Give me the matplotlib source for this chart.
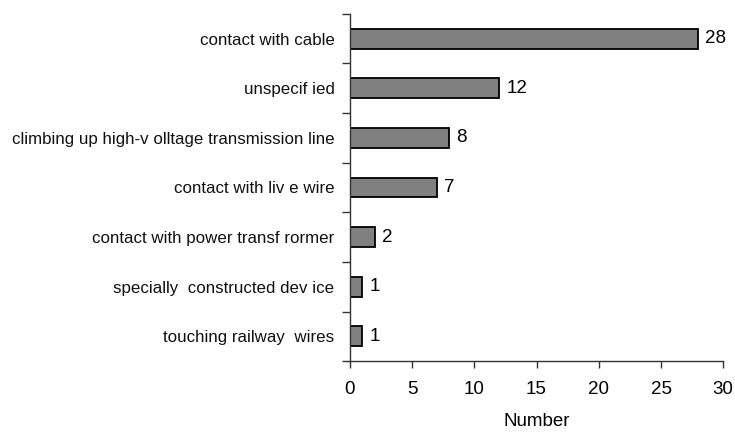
import matplotlib
matplotlib.use("Agg")
import matplotlib.pyplot as plt

categories = [
    "contact with cable",
    "unspecif ied",
    "climbing up high-v olltage transmission line",
    "contact with liv e wire",
    "contact with power transf rormer",
    "specially  constructed dev ice",
    "touching railway  wires",
]
values = [28, 12, 8, 7, 2, 1, 1]
x_ticks = [0, 5, 10, 15, 20, 25, 30]

plt.rcParams['font.family'] = ['Liberation Sans', 'DejaVu Sans']

fig = plt.figure(figsize=(7.35, 4.33), dpi=100)
ax = fig.add_axes([0.476, 0.166, 0.508, 0.802])

n = len(categories)
ypos = list(range(n))
ax.barh(ypos, values, height=0.4, color='#808080', edgecolor='black', linewidth=1.3)
ax.set_ylim(n - 0.5, -0.5)
ax.set_xlim(0, 30)

ax.set_yticks(ypos)
ax.set_yticklabels(categories, fontsize=12.2, color='#111111')
ax.set_yticks([i + 0.5 for i in range(-1, n)], minor=True)
ax.tick_params(axis='y', which='major', length=0, pad=11)
ax.tick_params(axis='y', which='minor', length=6, width=1, color='#333333', direction='out')

ax.set_xticks(x_ticks)
ax.set_xticklabels([str(t) for t in x_ticks], fontsize=13.5)
ax.tick_params(axis='x', length=5, width=1, color='#333333', direction='out', pad=9)
ax.set_xlabel("Number", fontsize=13.5, labelpad=11)

for s in ['top', 'right']:
    ax.spines[s].set_visible(False)
for s in ['left', 'bottom']:
    ax.spines[s].set_color('#333333')
    ax.spines[s].set_linewidth(1)

for y, v in zip(ypos, values):
    ax.annotate(str(v), (v, y), xytext=(7, 0), textcoords='offset pixels',
                va='center', ha='left', fontsize=13.5)

fig.savefig("out.png", dpi=100)
